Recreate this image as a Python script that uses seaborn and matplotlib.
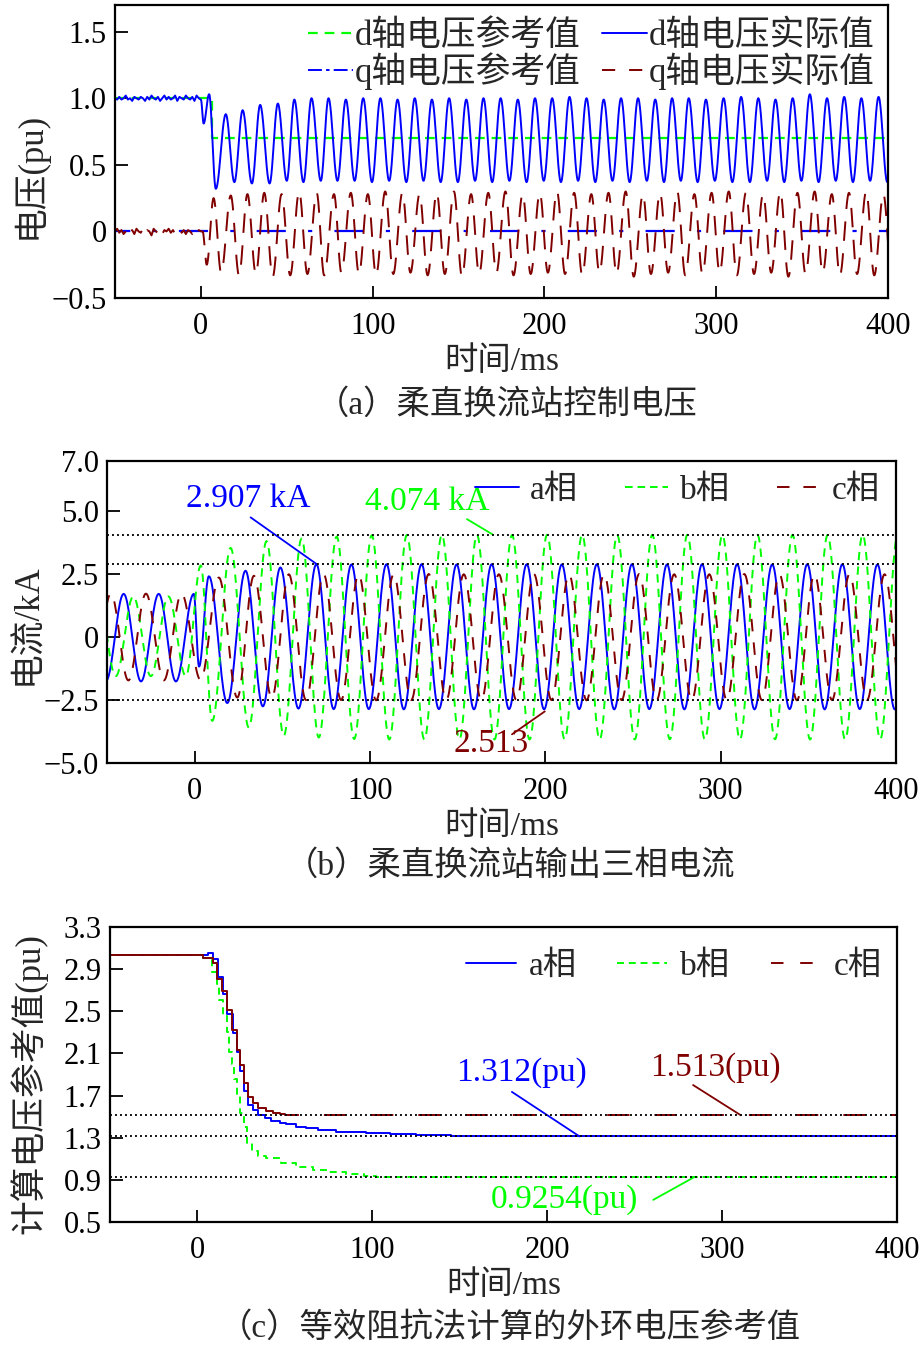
import numpy as np
import matplotlib
matplotlib.use("Agg")
import matplotlib.pyplot as plt
from matplotlib.lines import Line2D
import seaborn as sns

# ---------------- (a) d/q axis voltage (pu) ----------------
PRE_T0, PRE_T1 = -50, 0          # pre-fault sampled window, ms
D_ACT_PRE = [1.00, 0.99, 1.01, 0.99, 1.00, 1.02, 0.99, 1.00, 0.98, 1.01,
             1.00, 0.99, 1.01, 1.00, 0.98, 1.01, 0.99, 1.02, 1.00, 0.99,
             1.01, 0.98, 1.00, 1.02, 0.99, 1.01, 0.99, 1.00, 1.02, 0.98,
             1.01, 1.00, 0.99, 1.02, 1.00, 0.99, 1.01, 0.98, 1.02, 1.00, 0.99]
Q_ACT_PRE = [0.00, 0.02, -0.01, 0.01, -0.02, 0.00, 0.03, -0.01, 0.01, -0.02,
             0.02, 0.00, -0.01, 0.02, -0.02, 0.01, 0.00, -0.03, 0.02, 0.00,
             -0.01, 0.02, -0.02, 0.01, 0.00, 0.02, -0.01, 0.01, -0.02, 0.00,
             0.02, -0.01, 0.01, -0.02, 0.01, 0.00, -0.02, 0.02, -0.01, 0.01, 0.00]

D_REF_T = [-50, 6.4, 6.4, 400]
D_REF_V = [1.0, 1.0, 0.7, 0.7]
Q_REF_T = [-50, 400]
Q_REF_V = [0.0, 0.0]

# d-axis actual: turning points after the fault
D_START_T = [1.6, 4.8, 8.7]
D_START_V = [0.81, 1.03, 0.32]
D_PEAK_T = [14.5, 24.3, 34.5, 44.8, 54.4, 64.4, 74.3, 84.4, 94.5, 104.5,
            114.5, 124.5, 134.5, 144.5, 154.5, 164.5, 174.5, 184.5, 194.5, 204.5,
            214.6, 224.5, 234.5, 244.6, 254.5, 264.5, 274.3, 284.0, 294.0, 304.3,
            314.5, 324.5, 334.5, 344.5, 354.5, 364.5, 374.5, 384.5, 394.5]
D_PEAK_V = [0.88, 0.91, 0.95, 0.96, 0.99, 1.00, 1.00, 0.99, 1.00, 1.00,
            0.99, 1.00, 0.99, 1.00, 0.99, 1.00, 1.00, 0.99, 1.00, 1.00,
            1.01, 1.00, 0.99, 1.00, 1.00, 0.99, 1.00, 1.00, 0.99, 1.00,
            1.01, 1.00, 0.99, 1.00, 1.03, 1.00, 1.01, 1.00, 1.01]
D_TROUGH_T = [19.5, 29.7, 40.0, 50.0, 59.7, 69.8, 79.5, 89.5, 99.6, 109.6,
              119.6, 129.6, 139.6, 149.6, 159.6, 169.6, 179.6, 189.6, 199.6, 209.6,
              219.6, 229.6, 239.6, 249.6, 259.6, 269.6, 279.4, 289.2, 299.2, 309.4,
              319.6, 329.6, 339.6, 349.6, 359.6, 369.6, 379.6, 389.6, 399.6]
D_TROUGH_V = [0.37, 0.36, 0.36, 0.38, 0.37, 0.38, 0.38, 0.38, 0.37, 0.38,
              0.37, 0.38, 0.37, 0.37, 0.38, 0.37, 0.38, 0.37, 0.38, 0.37,
              0.38, 0.37, 0.38, 0.37, 0.38, 0.37, 0.38, 0.37, 0.38, 0.37,
              0.37, 0.38, 0.37, 0.38, 0.37, 0.38, 0.37, 0.38, 0.37]

# q-axis actual: turning points after the fault
Q_START_T = [1.0, 3.4]
Q_START_V = [0.0, -0.25]
Q_PEAK_T = [7.4, 17.4, 27.1, 36.9, 47.0, 57.2, 67.4, 77.5, 87.3, 97.2,
            107.3, 117.3, 127.3, 137.3, 147.3, 157.3, 167.3, 177.3, 187.3, 197.3,
            207.3, 217.3, 227.3, 237.3, 247.3, 257.3, 267.3, 277.3, 287.3, 297.3,
            307.3, 317.3, 327.3, 337.3, 347.3, 357.3, 367.3, 377.3, 387.3, 397.3]
Q_PEAK_V = [0.25, 0.27, 0.28, 0.29, 0.28, 0.30, 0.29, 0.28, 0.29, 0.28,
            0.30, 0.29, 0.28, 0.29, 0.30, 0.28, 0.29, 0.30, 0.28, 0.29,
            0.30, 0.29, 0.28, 0.29, 0.30, 0.28, 0.29, 0.30, 0.28, 0.29,
            0.30, 0.29, 0.28, 0.30, 0.29, 0.30, 0.28, 0.29, 0.30, 0.28]
Q_TROUGH_T = [11.8, 22.2, 32.0, 41.8, 52.0, 62.0, 71.8, 81.8, 92.0, 102.0,
              112.0, 122.0, 132.0, 142.0, 152.0, 162.0, 172.0, 182.0, 192.0, 202.0,
              212.0, 222.0, 232.0, 242.0, 252.0, 262.0, 272.0, 282.0, 292.0, 302.0,
              312.0, 322.0, 332.0, 342.0, 352.0, 362.0, 372.0, 382.0, 392.0, 402.0]
Q_TROUGH_V = [-0.31, -0.33, -0.32, -0.34, -0.33, -0.32, -0.33, -0.31, -0.32, -0.33,
              -0.32, -0.31, -0.33, -0.32, -0.34, -0.32, -0.31, -0.33, -0.32, -0.31,
              -0.32, -0.33, -0.31, -0.32, -0.34, -0.32, -0.31, -0.33, -0.32, -0.31,
              -0.33, -0.32, -0.31, -0.34, -0.32, -0.31, -0.33, -0.32, -0.33, -0.31]

# ---------------- (b) three-phase current (kA), turning points ----------------
A_T = [-50.6, -40.5, -30.6, -20.5, -10.7, -0.5, 2.5, 8.1, 18.6, 29.0,
       38.9, 48.9, 59.2, 69.4, 79.3, 89.4, 99.3, 109.4, 119.3, 129.4,
       139.3, 149.4, 159.3, 169.4, 179.3, 189.4, 199.3, 209.4, 219.3, 229.4,
       239.3, 249.4, 259.3, 269.4, 279.3, 289.4, 299.3, 309.4, 319.3, 329.4,
       339.3, 349.4, 359.3, 369.4, 379.3, 389.4, 399.3, 409.4]
A_V = [-1.74, 1.72, -1.76, 1.72, -1.76, 1.72, -1.17, 2.42, -2.62, 2.64,
       -2.75, 2.77, -2.84, 2.90, -2.86, 2.89, -2.86, 2.90, -2.87, 2.90,
       -2.86, 2.89, -2.87, 2.90, -2.86, 2.90, -2.87, 2.89, -2.86, 2.90,
       -2.87, 2.90, -2.86, 2.89, -2.87, 2.90, -2.86, 2.90, -2.87, 2.89,
       -2.86, 2.90, -2.87, 2.90, -2.86, 2.89, -2.87, 2.90]
B_T = [-55, -45, -35, -25, -15, -5, 3.5, 10.0, 20.5, 30.9,
       41.0, 50.8, 61.0, 70.8, 81.0, 91.0, 101.0, 111.0, 121.0, 131.0,
       141.0, 151.0, 161.0, 171.0, 181.0, 191.0, 201.0, 211.0, 221.0, 231.0,
       241.0, 251.0, 261.0, 271.0, 281.0, 291.0, 301.0, 311.0, 321.0, 331.0,
       341.0, 351.0, 361.0, 371.0, 381.0, 391.0, 401.0]
B_V = [1.62, -1.55, 1.62, -1.55, 1.62, -1.55, 2.85, -3.33, 3.55, -3.60,
       3.82, -3.92, 3.92, -3.99, 4.00, -4.05, 4.05, -4.07, 4.06, -4.07,
       4.07, -4.06, 4.07, -4.07, 4.06, -4.07, 4.07, -4.06, 4.07, -4.07,
       4.06, -4.07, 4.07, -4.06, 4.07, -4.07, 4.06, -4.07, 4.07, -4.06,
       4.07, -4.07, 4.06, -4.07, 4.07, -4.06, 4.07]
C_T = [-57.8, -47.8, -37.8, -27.8, -17.6, -7.5, 3.4, 13.8, 24.3, 33.8,
       44.0, 53.7, 63.5, 73.5, 83.5, 93.5, 103.5, 113.5, 123.5, 133.5,
       143.5, 153.5, 163.5, 173.5, 183.5, 193.5, 203.5, 213.5, 223.5, 233.5,
       243.5, 253.5, 263.5, 273.5, 283.5, 293.5, 303.5, 313.5, 323.5, 333.5,
       343.5, 353.5, 363.5, 373.5, 383.5, 393.5, 403.5]
C_V = [-1.72, 1.73, -1.72, 1.73, -1.72, 1.73, -1.70, 2.37, -2.40, 2.44,
       -2.42, 2.50, -2.50, 2.51, -2.50, 2.50, -2.51, 2.50, -2.50, 2.51,
       -2.50, 2.50, -2.51, 2.50, -2.50, 2.51, -2.50, 2.50, -2.51, 2.50,
       -2.50, 2.51, -2.50, 2.50, -2.51, 2.50, -2.50, 2.51, -2.50, 2.50,
       -2.51, 2.50, -2.50, 2.51, -2.50, 2.50, -2.51]
B_MARKS = [4.074, 2.907, -2.513]

# ---------------- (c) outer-loop voltage reference (pu), staircase ----------------
RA_T = [-50, 6.3, 9.0, 11.9, 14.4, 17.1, 20.1, 22.9, 24.6, 26.6, 29.0, 31.9, 34.7,
        38.5, 42.3, 47.0, 50.8, 56.5, 62.2, 68.8, 79.3, 84.0, 96.3, 110, 125, 145, 170, 400]
RA_V = [3.034, 3.05, 3.0, 2.83, 2.66, 2.47, 2.29, 2.11, 1.93, 1.74, 1.61, 1.56, 1.52,
        1.49, 1.46, 1.443, 1.428, 1.405, 1.39, 1.374, 1.358, 1.35, 1.344, 1.335, 1.325,
        1.318, 1.312, 1.312]
RB_T = [-50, 3.4, 8.2, 11.0, 12.5, 14.4, 16.7, 18.0, 19.5, 20.9, 22.4, 24.6, 26.6,
        28.5, 31.0, 34.7, 39.4, 48.0, 56.5, 66.0, 74.5, 85.0, 95.4, 102, 130, 160, 400]
RB_V = [3.034, 3.003, 2.877, 2.76, 2.607, 2.458, 2.307, 2.117, 1.998, 1.855, 1.706,
        1.538, 1.40, 1.25, 1.178, 1.13, 1.111, 1.064, 1.026, 0.995, 0.978, 0.957,
        0.94, 0.93, 0.928, 0.9254, 0.9254]
RC_T = [-50, 3.4, 9.1, 11.0, 13.8, 16.7, 19.5, 22.4, 24.6, 26.7, 29.0, 31.9, 34.7,
        39.4, 43.2, 47.0, 49.9, 400]
RC_V = [3.034, 3.01, 2.955, 2.81, 2.69, 2.51, 2.32, 2.13, 1.99, 1.817, 1.69, 1.627,
        1.58, 1.554, 1.538, 1.523, 1.513, 1.513]
C_MARKS = [1.513, 1.312, 0.9254]

X_TICKS = [0, 100, 200, 300, 400]
YA_TICKS, YA_LABELS = [-0.5, 0, 0.5, 1.0, 1.5], ["\u22120.5", "0", "0.5", "1.0", "1.5"]
YB_TICKS, YB_LABELS = [-5, -2.5, 0, 2.5, 5, 7], ["\u22125.0", "\u22122.5", "0", "2.5", "5.0", "7.0"]
YC_TICKS = [0.5, 0.9, 1.3, 1.7, 2.1, 2.5, 2.9, 3.3]

BLUE, GREEN, DRED = "#0000ff", "#00ff00", "#800000"

sns.set_theme(style="white")
plt.rcParams["font.family"] = ["Liberation Serif", "Noto Sans CJK SC"]
plt.rcParams["lines.scale_dashes"] = False
plt.rcParams["axes.unicode_minus"] = True


def swing(ts, vs, n=24):
    """Join read-off turning points with half-cosine arcs."""
    xs, ys = [ts[0]], [vs[0]]
    for t0, t1, v0, v1 in zip(ts[:-1], ts[1:], vs[:-1], vs[1:]):
        s = np.linspace(0, 1, n)[1:]
        xs.extend(t0 + s * (t1 - t0))
        ys.extend(v0 + (v1 - v0) * (1 - np.cos(np.pi * s)) / 2)
    return np.array(xs), np.array(ys)


def merged(start_t, start_v, pt, pv, tt, tv):
    pts = sorted(zip(pt + tt, pv + tv))
    return start_t + [p[0] for p in pts], start_v + [p[1] for p in pts]


def draw(ax, x, y, color, lw=1.4, dashes=None, steps=False):
    kw = dict(drawstyle="steps-post") if steps else {}
    sns.lineplot(x=np.asarray(x, float), y=np.asarray(y, float), ax=ax, color=color,
                 linewidth=lw, estimator=None, sort=False, errorbar=None, **kw)
    line = ax.lines[-1]
    if dashes is not None:
        line.set_linestyle(dashes)
    return line


def style(ax, yticks, ylabels, ylim, ylabel, ylab_xy):
    ax.set_xlim(-50, 400)
    ax.set_ylim(*ylim)
    ax.set_xticks(X_TICKS)
    ax.set_xticklabels([str(t) for t in X_TICKS])
    ax.set_yticks(yticks)
    ax.set_yticklabels(ylabels)
    ax.tick_params(axis="both", direction="in", length=9, width=1.3, labelsize=22,
                   colors="black")
    ax.tick_params(axis="x", pad=10)
    ax.tick_params(axis="y", pad=6)
    ax.tick_params(left=True, bottom=True, top=False, right=False)
    for sp in ax.spines.values():
        sp.set_color("black")
        sp.set_linewidth(1.6)
    ax.set_xlabel("时间/ms", fontsize=24, labelpad=4)
    ax.set_ylabel(ylabel, fontsize=25, va="center")
    ax.yaxis.set_label_coords(*ylab_xy)
    ax.grid(False)


W, H = 922, 1345
fig = plt.figure(figsize=(W / 100, H / 100), dpi=100)
fig.patch.set_facecolor("white")


def box(l, t, r, b):
    return [l / W, 1 - b / H, (r - l) / W, (b - t) / H]


# ---------- panel (a) ----------
ax1 = fig.add_axes(box(115, 5, 888, 298))
pre_t = np.linspace(PRE_T0, PRE_T1, len(D_ACT_PRE))
dt, dv = merged(D_START_T, D_START_V, D_PEAK_T, D_PEAK_V, D_TROUGH_T, D_TROUGH_V)
dx, dy = swing([PRE_T1] + dt, [D_ACT_PRE[-1]] + dv)
qt, qv = merged(Q_START_T, Q_START_V, Q_PEAK_T, Q_PEAK_V, Q_TROUGH_T, Q_TROUGH_V)
qx, qy = swing([PRE_T1] + qt, [Q_ACT_PRE[-1]] + qv)

draw(ax1, D_REF_T, D_REF_V, GREEN, lw=1.6, dashes=(0, (7, 5)))
draw(ax1, Q_REF_T, Q_REF_V, BLUE, lw=1.6, dashes=(10, (21, 16, 3, 16)))
draw(ax1, np.concatenate([pre_t, dx[1:]]), np.concatenate([D_ACT_PRE, dy[1:]]), BLUE)
draw(ax1, np.concatenate([pre_t, qx[1:]]), np.concatenate([Q_ACT_PRE, qy[1:]]), DRED,
     dashes=(0, (14, 9)))
style(ax1, YA_TICKS, YA_LABELS, (-0.5, 1.7), "电压(pu)", (-0.11, 0.42))

h_a = [Line2D([], [], color=GREEN, lw=1.6, ls=(0, (7, 5))),
       Line2D([], [], color=BLUE, lw=1.4, ls=(0, (10, 3, 2.5, 3))),
       Line2D([], [], color=BLUE, lw=1.4),
       Line2D([], [], color=DRED, lw=1.4, ls=(0, (9.5, 10)))]
l_a = ["d轴电压参考值", "q轴电压参考值", "d轴电压实际值", "q轴电压实际值"]
ax1.legend(h_a, l_a, ncol=2, frameon=False, fontsize=25, loc="upper left",
           bbox_to_anchor=((308 - 115) / 773, (298 - 20) / 293), borderpad=0,
           borderaxespad=0, handlelength=1.3, handletextpad=0.05,
           columnspacing=0.6, labelspacing=-0.02)

# ---------- panel (b) ----------
ax2 = fig.add_axes(box(107, 461, 896, 763))
draw(ax2, *swing(A_T, A_V), BLUE)
draw(ax2, *swing(B_T, B_V), GREEN, dashes=(0, (6, 4.5)))
draw(ax2, *swing(C_T, C_V), DRED, dashes=(0, (9, 8)))
for m in B_MARKS:
    ax2.axhline(m, color="black", lw=1.3, ls=(0, (1.4, 2.2)), zorder=5)
style(ax2, YB_TICKS, YB_LABELS, (-5, 7), "电流/kA", (-0.10, 0.46))

ax2.text(30.7, 5.5, "2.907 kA", color=BLUE, fontsize=24, ha="center", va="center")
ax2.annotate("", xy=(69.5, 2.907), xytext=(31.9, 4.76),
             arrowprops=dict(arrowstyle="-", color=BLUE, lw=1.3, shrinkA=0, shrinkB=0))
ax2.text(132.6, 5.4, "4.074 kA", color=GREEN, fontsize=24, ha="center", va="center")
ax2.annotate("", xy=(170.1, 4.074), xytext=(155.3, 4.69),
             arrowprops=dict(arrowstyle="-", color=GREEN, lw=1.3, shrinkA=0, shrinkB=0))
ax2.text(169, -4.25, "2.513", color=DRED, fontsize=24, ha="center", va="center")
ax2.annotate("", xy=(199.7, -2.95), xytext=(181, -3.86),
             arrowprops=dict(arrowstyle="-", color=DRED, lw=1.3, shrinkA=0, shrinkB=0))

h_b = [Line2D([], [], color=BLUE, lw=1.4),
       Line2D([], [], color=GREEN, lw=1.4, ls=(0, (5.5, 3.5))),
       Line2D([], [], color=DRED, lw=1.4, ls=(0, (9, 10)))]
ax2.legend(h_b, ["a相", "b相", "c相"], ncol=3, frameon=False, fontsize=24,
           loc="upper right", bbox_to_anchor=((880 - 107) / 789, (763 - 475) / 302),
           borderpad=0, borderaxespad=0, handlelength=1.3, handletextpad=0.35,
           columnspacing=1.4)

# ---------- panel (c) ----------
ax3 = fig.add_axes(box(110, 927, 897, 1222))
draw(ax3, RA_T, RA_V, BLUE, steps=True)
draw(ax3, RB_T, RB_V, GREEN, dashes=(0, (5, 3.5)), steps=True)
rc_t = np.asarray(RC_T, float)
rc_v = np.asarray(RC_V, float)
early = rc_t <= 50
draw(ax3, rc_t[early], rc_v[early], DRED, steps=True)
draw(ax3, np.r_[49.9, rc_t[~early]], np.r_[1.513, rc_v[~early]], DRED,
     dashes=(6, (16, 18)), steps=True)
for m in C_MARKS:
    ax3.axhline(m, color="black", lw=1.3, ls=(0, (1.4, 2.2)), zorder=5)
style(ax3, YC_TICKS, [f"{v:.1f}" for v in YC_TICKS], (0.5, 3.3),
      "计算电压参考值(pu)", (-0.104, 0.468))

ax3.text(185.5, 1.915, "1.312(pu)", color=BLUE, fontsize=24, ha="center", va="center")
ax3.annotate("", xy=(218.5, 1.312), xytext=(179.8, 1.735),
             arrowprops=dict(arrowstyle="-", color=BLUE, lw=1.3, shrinkA=0, shrinkB=0))
ax3.text(295.9, 1.962, "1.513(pu)", color=DRED, fontsize=24, ha="center", va="center")
ax3.annotate("", xy=(310.7, 1.513), xytext=(283.4, 1.80),
             arrowprops=dict(arrowstyle="-", color=DRED, lw=1.3, shrinkA=0, shrinkB=0))
ax3.text(210, 0.71, "0.9254(pu)", color=GREEN, fontsize=24, ha="center", va="center")
ax3.annotate("", xy=(284, 0.9254), xytext=(260.6, 0.71),
             arrowprops=dict(arrowstyle="-", color=GREEN, lw=1.3, shrinkA=0, shrinkB=0))

h_c = [Line2D([], [], color=BLUE, lw=1.4),
       Line2D([], [], color=GREEN, lw=1.4, ls=(0, (5, 3.5))),
       Line2D([], [], color=DRED, lw=1.4, ls=(0, (9, 12)))]
ax3.legend(h_c, ["a相", "b相", "c相"], ncol=3, frameon=False, fontsize=24,
           loc="upper right", bbox_to_anchor=((882 - 110) / 787, (1222 - 951) / 295),
           borderpad=0, borderaxespad=0, handlelength=1.5, handletextpad=0.4,
           columnspacing=1.2)

# ---------- captions ----------
fig.text(507 / W, 1 - 405 / H, "（a）柔直换流站控制电压", fontsize=24, ha="center", va="center")
fig.text(510 / W, 1 - 866 / H, "（b）柔直换流站输出三相电流", fontsize=24, ha="center", va="center")
fig.text(510 / W, 1 - 1328 / H, "（c）等效阻抗法计算的外环电压参考值", fontsize=24,
         ha="center", va="center")

fig.savefig("out.png", dpi=100, facecolor="white")
plt.close(fig)
